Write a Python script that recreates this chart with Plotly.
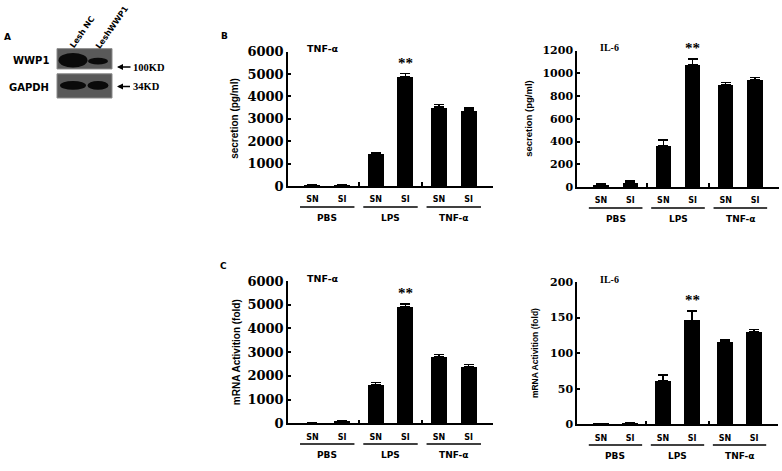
import plotly.graph_objects as go

W, H = 782, 471

groups = ["PBS", "LPS", "TNF-α"]
subs = ["SN", "SI"]

tnf_sec = [30, 50, 1450, 4890, 3520, 3385]
tnf_sec_err = [10, 15, 55, 120, 110, 100]
il6_sec = [20, 37, 367, 1075, 898, 941]
il6_sec_err = [8, 17, 45, 51, 20, 23]
tnf_mrna = [5, 95, 1635, 4920, 2800, 2365]
tnf_mrna_err = [0, 10, 80, 120, 105, 105]
il6_mrna = [1, 2.3, 61, 146, 115.5, 130]
il6_mrna_err = [0.2, 0.3, 8.5, 13, 3, 3]

sig_index = 3  # LPS SI

def px(x):
    return x / W

def py(y):
    return 1 - y / H

x_pos = [g + (s - 0.5) * 0.47 for g in range(len(groups)) for s in range(len(subs))]
x_text = [s for g in groups for s in subs]

fig = go.Figure()

panels = [
    dict(vals=tnf_sec, err=tnf_sec_err, ymax=6000, dtick=1000, xd=(288, 493), yd=(185, 46),
         tfs=13, title="secretion (pg/ml)", tx=235, tys=10, name="TNF-α", nserif=False),
    dict(vals=il6_sec, err=il6_sec_err, ymax=1200, dtick=200, xd=(577, 779), yd=(186, 45),
         tfs=11, title="secretion (pg/ml)", tx=529, tys=9.5, name="IL-6", nserif=True),
    dict(vals=tnf_mrna, err=tnf_mrna_err, ymax=6000, dtick=1000, xd=(288, 493), yd=(430, 283),
         tfs=13, title="mRNA Activition (fold)", tx=236, tys=10, name="TNF-α", nserif=False),
    dict(vals=il6_mrna, err=il6_mrna_err, ymax=200, dtick=50, xd=(577, 778), yd=(431, 284),
         tfs=11, title="mRNA Activition (fold)", tx=535, tys=8.5, name="IL-6", nserif=True),
]

annotations = []
shapes = []

for i, p in enumerate(panels, start=1):
    xa = "x" if i == 1 else f"x{i}"
    ya = "y" if i == 1 else f"y{i}"
    fig.add_trace(go.Bar(
        x=x_pos, y=p["vals"], width=0.25,
        marker=dict(color="black", line=dict(width=0)),
        error_y=dict(type="data", symmetric=False, array=p["err"],
                     arrayminus=[0] * len(p["err"]), color="black", thickness=1.5, width=5),
        xaxis=xa, yaxis=ya, showlegend=False, hoverinfo="skip"))
    xk = "xaxis" if i == 1 else f"xaxis{i}"
    yk = "yaxis" if i == 1 else f"yaxis{i}"
    fig.layout[xk] = dict(
        domain=[px(p["xd"][0]), px(p["xd"][1])], anchor=ya, range=[-0.62, 2.62],
        showline=True, linecolor="black", linewidth=1.5, showgrid=False, zeroline=False,
        tickmode="array", tickvals=x_pos, ticktext=x_text, ticks="", ticklabelstandoff=5,
        tickfont=dict(family="DejaVu Sans", size=8, color="black", weight="bold"),
        minor=dict(tickvals=[0.5, 1.5], ticks="inside", ticklen=4, tickwidth=1.5, tickcolor="black"),
        fixedrange=True)
    fig.layout[yk] = dict(
        domain=[py(p["yd"][0]), py(p["yd"][1])], anchor=xa, range=[0, p["ymax"]],
        tickmode="linear", tick0=0, dtick=p["dtick"],
        showline=True, linecolor="black", linewidth=1.5, showgrid=False, zeroline=False,
        ticks="inside", ticklen=3, tickwidth=1.5, tickcolor="black",
        tickfont=dict(family="DejaVu Serif", size=p["tfs"], color="black", weight="bold"),
        fixedrange=True)
    base = p["yd"][0]
    for g, name in enumerate(groups):
        shapes.append(dict(type="line", xref=xa, yref="paper", x0=g - 0.43, x1=g + 0.43,
                           y0=py(base + 21.5), y1=py(base + 21.5),
                           line=dict(color="black", width=1.5)))
        annotations.append(dict(xref=xa, yref="paper", x=g, y=py(base + 33), text=name,
                                showarrow=False, yanchor="middle",
                                font=dict(family="DejaVu Sans", size=9, color="black", weight="bold")))
    # significance
    annotations.append(dict(xref=xa, yref=ya, x=x_pos[sig_index],
                            y=p["vals"][sig_index] + p["err"][sig_index], text="**",
                            showarrow=False, yanchor="bottom", yshift=1,
                            font=dict(family="Liberation Serif", size=15, color="black", weight="bold")))
    # y title
    cy = (p["yd"][0] + p["yd"][1]) / 2
    annotations.append(dict(xref="paper", yref="paper", x=px(p["tx"]), y=py(cy), text=p["title"],
                            textangle=-90, showarrow=False, xanchor="center", yanchor="middle",
                            font=dict(family="Liberation Sans", size=p["tys"], color="black", weight="bold")))
    # panel name
    annotations.append(dict(xref="paper", yref="paper", x=px(p["xd"][0] + 17 if not p["nserif"] else p["xd"][0] + 21),
                            y=py(p["yd"][1] - 3), text=p["name"], showarrow=False,
                            xanchor="left", yanchor="middle",
                            font=dict(family="Liberation Serif" if p["nserif"] else "DejaVu Sans",
                                      size=10 if p["nserif"] else 9.5, color="black", weight="bold")))

# panel letters
for letter, x, y in [("A", 7, 31), ("B", 224, 30), ("C", 223, 268)]:
    annotations.append(dict(xref="paper", yref="paper", x=px(x), y=py(y), text=letter,
                            showarrow=False, xanchor="center", yanchor="middle",
                            font=dict(family="DejaVu Sans", size=9, color="black", weight="bold")))

# western blot (panel A)
for (y0, y1) in [(43, 64), (69, 94)]:
    shapes.append(dict(type="rect", xref="paper", yref="paper", x0=px(57), x1=px(112),
                       y0=py(y1), y1=py(y0), fillcolor="#595959", line=dict(color="#8a8a8a", width=1)))
bands = [(73, 55, 29, 15), (98, 56, 20, 7), (73, 81, 26, 9), (98, 81, 21, 9)]
for cx, cy, bw, bh in bands:
    shapes.append(dict(type="circle", xref="paper", yref="paper", x0=px(cx - bw / 2), x1=px(cx + bw / 2),
                       y0=py(cy + bh / 2), y1=py(cy - bh / 2), fillcolor="#0a0a0a", line=dict(width=0)))
for txt, y in [("WWP1", 55), ("GAPDH", 83)]:
    annotations.append(dict(xref="paper", yref="paper", x=px(51), y=py(y), text=txt, showarrow=False,
                            xanchor="right", yanchor="middle",
                            font=dict(family="DejaVu Sans", size=10, color="black", weight="bold")))
for txt, x, y in [("Lesh NC", 82, 26), ("LeshWWP1", 112, 21)]:
    annotations.append(dict(xref="paper", yref="paper", x=px(x), y=py(y), text=txt, showarrow=False,
                            textangle=-55, xanchor="center", yanchor="middle",
                            font=dict(family="DejaVu Sans", size=8, color="black", weight="bold")))
for txt, y, ax in [("100KD", 62, 32), ("34KD", 82, 29)]:
    annotations.append(dict(xref="paper", yref="paper", x=px(117), y=py(y), text=txt, showarrow=True,
                            ax=ax, ay=0, arrowhead=2, arrowsize=0.8, arrowwidth=1.5, arrowcolor="black",
                            standoff=0, startstandoff=1,
                            font=dict(family="Liberation Serif", size=10.5, color="black", weight="bold")))

fig.update_layout(width=W, height=H, margin=dict(l=0, r=0, t=0, b=0),
                  paper_bgcolor="white", plot_bgcolor="white",
                  annotations=annotations, shapes=shapes, bargap=0)

fig.write_html("out.html", config={"displayModeBar": False},
               post_script="document.body.style.margin='0';document.body.style.overflow='hidden';")
